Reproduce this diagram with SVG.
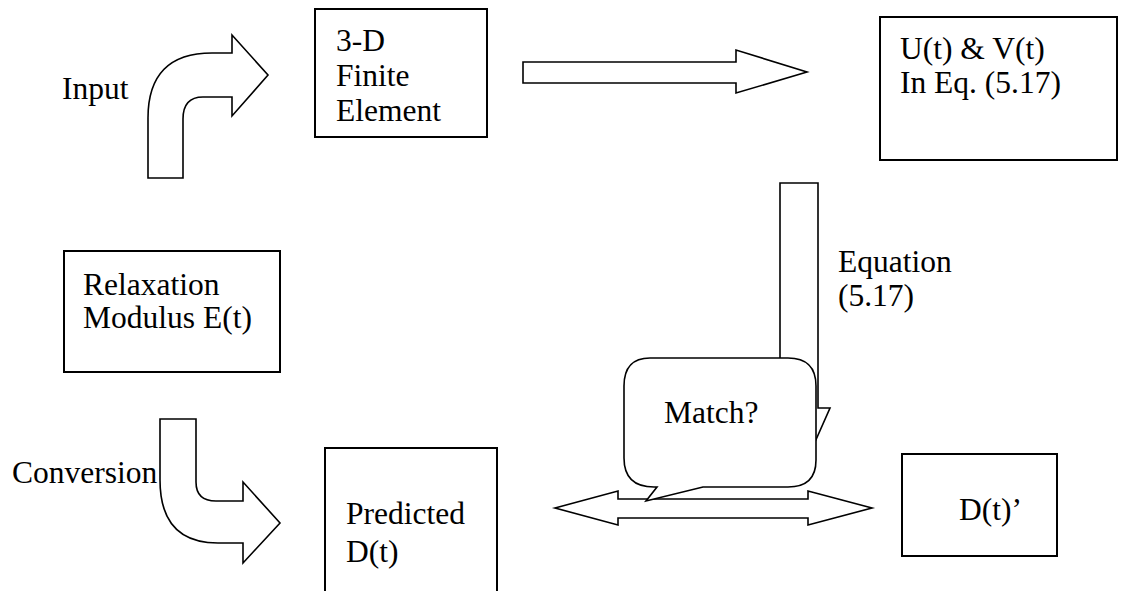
<svg xmlns="http://www.w3.org/2000/svg" width="1131" height="591" viewBox="0 0 1131 591">
<style>
text{font-family:"Liberation Serif","Times New Roman",serif;font-size:31.5px;fill:#000}
.box{fill:#fff;stroke:#000;stroke-width:2}
.arr{fill:#fff;stroke:#000;stroke-width:1.6;stroke-linejoin:miter}
</style>
<rect width="1131" height="591" fill="#fff"/>
<g id="connectors">
<path class="arr" d="M148,178 L148,118 Q148,53 212,53 L232,53 L232,35 L268,75 L232,116 L232,97 L203,97 Q183,97 183,119 L183,178 Z"/>
<path class="arr" d="M523,62 L736,62 L736,50 L807,72 L736,93 L736,83 L523,83 Z"/>
<path class="arr" d="M780,183 L818,183 L818,408 L830,408 L799,478 L768,408 L780,408 Z"/>
<path class="arr" d="M160,419 L196,419 L196,482 Q196,501 216,501 L243,501 L243,482 L280,523 L243,563 L243,543 L218,543 Q160,543 160,480 Z"/>
<path class="arr" d="M555,508 L618,491 L618,499 L808,499 L808,491 L872,508 L808,525 L808,518 L618,518 L618,525 Z"/>
</g>
<g id="input-label"><text x="62" y="99">Input</text></g>
<g id="fe"><rect class="box" x="315" y="9" width="172" height="128"/><text x="336" y="51">3-D</text><text x="336" y="86">Finite</text><text x="336" y="121">Element</text></g>
<g id="uv"><rect class="box" x="880" y="17" width="237" height="143"/><text x="900" y="59">U(t) &amp; V(t)</text><text x="900" y="93">In Eq. (5.17)</text></g>
<g id="eq-label"><text x="838" y="272">Equation</text><text x="838" y="306">(5.17)</text></g>
<g id="relax"><rect class="box" x="64" y="251" width="216" height="121"/><text x="83" y="295">Relaxation</text><text x="83" y="328">Modulus E(t)</text></g>
<g id="conv-label"><text x="12" y="483">Conversion</text></g>
<g id="pred"><rect class="box" x="325" y="448" width="172" height="160"/><text x="346" y="524">Predicted</text><text x="346" y="562">D(t)</text></g>
<g id="match"><path class="arr" d="M650,358 L788,358 Q816,358 816,386 L816,460 Q816,487 788,487 L703,487 L646,501 L657,487 L654,487 Q624,487 624,458 L624,386 Q624,358 650,358 Z"/><text x="664" y="423">Match?</text></g>
<g id="dt"><rect class="box" x="902" y="454" width="155" height="102"/><text x="959" y="520">D(t)’</text></g>
</svg>
